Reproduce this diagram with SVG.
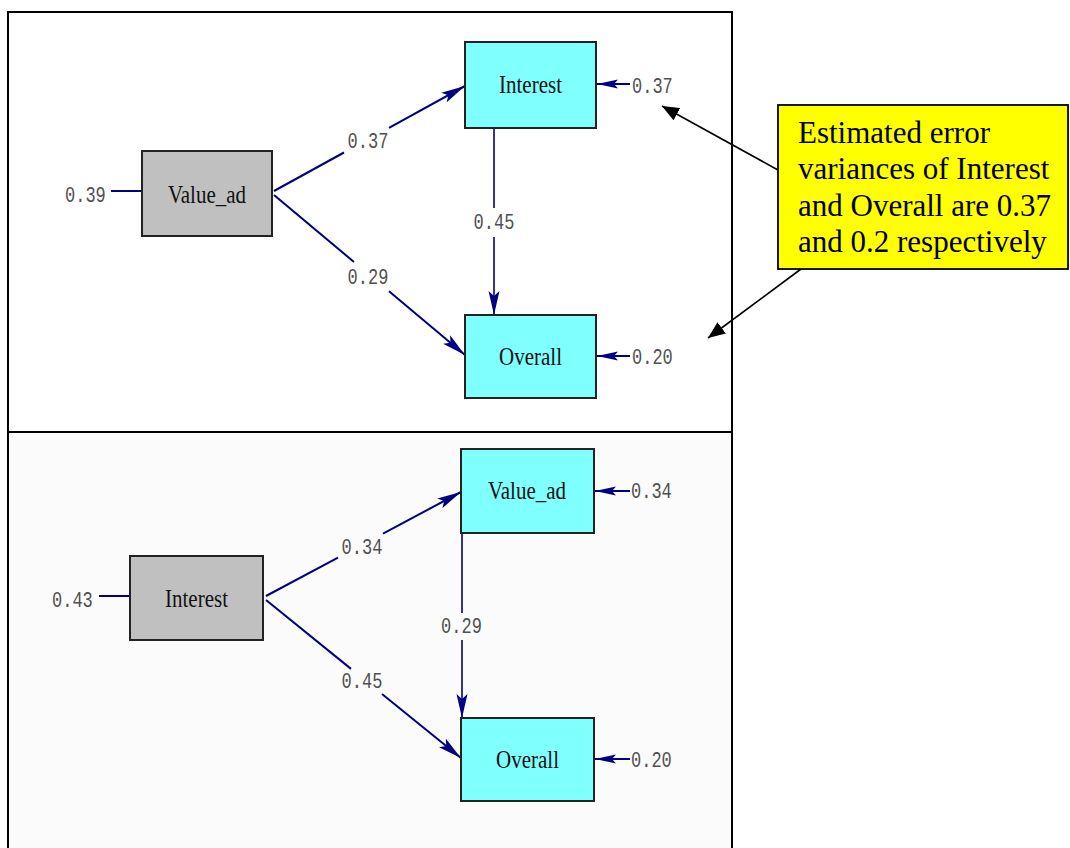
<svg xmlns="http://www.w3.org/2000/svg" width="1070" height="848" viewBox="0 0 1070 848">
<style>
.num{font-family:"Liberation Mono","DejaVu Sans Mono",monospace;font-size:17px;fill:#505050}
.lbl{font-family:"Liberation Serif","Times New Roman",serif;font-size:21px;fill:#111;text-anchor:middle}
.exo{fill:#c0c0c0;stroke:#222;stroke-width:2}
.endo{fill:#80ffff;stroke:#222;stroke-width:2}
.path{stroke:#000080;stroke-width:2;fill:none}
.vpath{stroke:#000080;stroke-width:1.6;fill:none}
.call{stroke:#000;stroke-width:1.6;fill:none}
.note{font-family:"Liberation Serif","Times New Roman",serif;font-size:31px;fill:#000}
</style>
<defs>
<marker id="ah" markerUnits="userSpaceOnUse" markerWidth="25" markerHeight="12" refX="24" refY="6" orient="auto" viewBox="0 0 25 12">
<path d="M0,0.5 L24,6 L0,11.5 L5,6 Z" fill="#000080"/>
</marker>
<marker id="ahe" markerUnits="userSpaceOnUse" markerWidth="22" markerHeight="11" refX="21" refY="5.5" orient="auto" viewBox="0 0 22 11">
<path d="M0,1 L21,5.5 L0,10 L4,5.5 Z" fill="#000080"/>
</marker>
<marker id="bk" markerUnits="userSpaceOnUse" markerWidth="18" markerHeight="14" refX="17" refY="7" orient="auto" viewBox="0 0 18 14">
<path d="M0,0 L17,7 L0,14 Z" fill="#000"/>
</marker>
</defs>
<rect x="0" y="0" width="1070" height="848" fill="#fff"/>
<g id="frame">
<rect x="8" y="12" width="724" height="420" fill="#fff" stroke="#000" stroke-width="2"/>
<rect x="8" y="432" width="724" height="420" fill="#fbfbfb" stroke="#000" stroke-width="2"/>
</g>
<g id="connectors">
<line class="path" x1="111" y1="191" x2="142" y2="191"/>
<line class="path" x1="274" y1="191" x2="344" y2="152.5"/>
<line class="path" x1="389" y1="127.8" x2="465" y2="86" marker-end="url(#ah)"/>
<line class="path" x1="274" y1="195" x2="354" y2="262"/>
<line class="path" x1="389" y1="291.3" x2="465" y2="355" marker-end="url(#ah)"/>
<line class="vpath" x1="494" y1="128" x2="494" y2="208"/>
<line class="vpath" x1="494" y1="237" x2="494" y2="315" marker-end="url(#ah)"/>
<line class="path" x1="630" y1="84" x2="597" y2="84" marker-end="url(#ahe)"/>
<line class="path" x1="630" y1="356" x2="597" y2="356" marker-end="url(#ahe)"/>
<line class="path" x1="99" y1="596" x2="130" y2="596"/>
<line class="path" x1="266" y1="596" x2="338" y2="557.6"/>
<line class="path" x1="383" y1="533.6" x2="461" y2="492" marker-end="url(#ah)"/>
<line class="path" x1="266" y1="600" x2="351" y2="668.9"/>
<line class="path" x1="382" y1="694" x2="461" y2="758" marker-end="url(#ah)"/>
<line class="vpath" x1="462" y1="533" x2="462" y2="613"/>
<line class="vpath" x1="462" y1="640" x2="462" y2="718" marker-end="url(#ah)"/>
<line class="path" x1="630" y1="491" x2="595" y2="491" marker-end="url(#ahe)"/>
<line class="path" x1="630" y1="759" x2="595" y2="759" marker-end="url(#ahe)"/>
<line class="call" x1="778" y1="170" x2="662" y2="106" marker-end="url(#bk)"/>
<line class="call" x1="801" y1="269" x2="708" y2="338" marker-end="url(#bk)"/>
</g>
<g id="labels">
<text class="num" transform="translate(65,202) scale(1,1.3)">0.39</text>
<text class="num" text-anchor="middle" transform="translate(368,148) scale(1,1.3)">0.37</text>
<text class="num" text-anchor="middle" transform="translate(368,284) scale(1,1.3)">0.29</text>
<text class="num" text-anchor="middle" transform="translate(494,229) scale(1,1.3)">0.45</text>
<text class="num" transform="translate(632,93) scale(1,1.3)">0.37</text>
<text class="num" transform="translate(632,364) scale(1,1.3)">0.20</text>
<text class="num" transform="translate(52,606.5) scale(1,1.3)">0.43</text>
<text class="num" text-anchor="middle" transform="translate(362,554) scale(1,1.3)">0.34</text>
<text class="num" text-anchor="middle" transform="translate(362,688) scale(1,1.3)">0.45</text>
<text class="num" text-anchor="middle" transform="translate(461.5,633) scale(1,1.3)">0.29</text>
<text class="num" transform="translate(631,498) scale(1,1.3)">0.34</text>
<text class="num" transform="translate(631,766.5) scale(1,1.3)">0.20</text>
</g>
<g id="top-value-ad">
<rect class="exo" x="142" y="151" width="130" height="85"/>
<text class="lbl" transform="translate(207,203) scale(1,1.15)">Value_ad</text>
</g>
<g id="top-interest">
<rect class="endo" x="465" y="42" width="131" height="86"/>
<text class="lbl" transform="translate(530.5,93) scale(1,1.15)">Interest</text>
</g>
<g id="top-overall">
<rect class="endo" x="465" y="315" width="131" height="83"/>
<text class="lbl" transform="translate(530.5,365) scale(1,1.15)">Overall</text>
</g>
<g id="bottom-value-ad">
<rect class="endo" x="461" y="449" width="133" height="84"/>
<text class="lbl" transform="translate(527,499) scale(1,1.15)">Value_ad</text>
</g>
<g id="bottom-interest">
<rect class="exo" x="130" y="556" width="133" height="84"/>
<text class="lbl" transform="translate(196.5,607) scale(1,1.15)">Interest</text>
</g>
<g id="bottom-overall">
<rect class="endo" x="461" y="718" width="133" height="83"/>
<text class="lbl" transform="translate(527.5,768) scale(1,1.15)">Overall</text>
</g>
<g id="callout">
<rect x="778" y="105" width="290" height="164" fill="#ffff00" stroke="#000" stroke-width="1.8"/>
<text class="note" x="798" y="143">Estimated error</text>
<text class="note" x="798" y="179">variances of Interest</text>
<text class="note" x="798" y="216">and Overall are 0.37</text>
<text class="note" x="798" y="252">and 0.2 respectively</text>
</g>
</svg>
